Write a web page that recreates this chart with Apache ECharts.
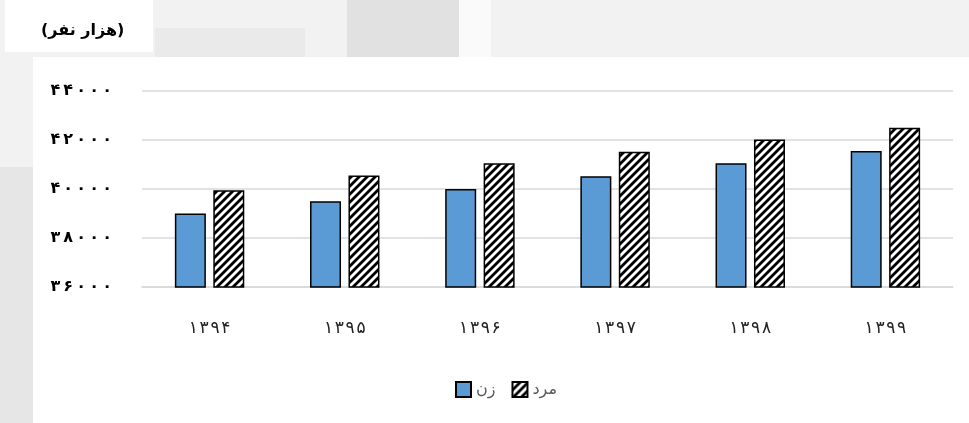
<!DOCTYPE html>
<html>
<head>
<meta charset="utf-8">
<script src="https://cdn.jsdelivr.net/npm/echarts@6/dist/echarts.min.js"></script>
<style>
  html, body { margin: 0; padding: 0; background: #fff; }
  #main { width: 969px; height: 423px; }
</style>
</head>
<body>
<div id="main"></div>
<script>
var years = ['۱۳۹۴', '۱۳۹۵', '۱۳۹۶', '۱۳۹۷', '۱۳۹۸', '۱۳۹۹'];
var women = [39000, 39500, 40000, 40520, 41050, 41550];
var men = [39950, 40550, 41050, 41520, 42020, 42500];
var yTicks = [36000, 38000, 40000, 42000, 44000];
var unitLabel = '(هزار نفر)';
var seriesNames = ['زن', 'مرد'];

var faDigits = '۰۱۲۳۴۵۶۷۸۹';
function toFa(n, sep) {
  return String(n).split('').map(function (d) { return faDigits[+d]; }).join(sep || '');
}

// hatch tile for the men bars
var tile = document.createElement('canvas');
tile.width = 8;
tile.height = 8;
var ctx = tile.getContext('2d');
ctx.fillStyle = '#fff';
ctx.fillRect(0, 0, 8, 8);
ctx.strokeStyle = '#000';
ctx.lineWidth = 2.8;
ctx.beginPath();
ctx.moveTo(-1, 9); ctx.lineTo(9, -1);
ctx.moveTo(-5, 5); ctx.lineTo(5, -5);
ctx.moveTo(3, 13); ctx.lineTo(13, 3);
ctx.stroke();

var chart = echarts.init(document.getElementById('main'));

var option = {
  backgroundColor: '#fff',
  animation: false,
  textStyle: { fontFamily: 'DejaVu Sans' },
  graphic: [
    // surrounding page bits (screenshot background)
    { type: 'rect', z: -10, shape: { x: 0, y: 0, width: 969, height: 57 }, style: { fill: '#f2f2f2' } },
    { type: 'rect', z: -10, shape: { x: 0, y: 57, width: 33, height: 110 }, style: { fill: '#f2f2f2' } },
    { type: 'rect', z: -10, shape: { x: 0, y: 167, width: 33, height: 256 }, style: { fill: '#e6e6e6' } },
    { type: 'rect', z: -9, shape: { x: 155, y: 28, width: 150, height: 29 }, style: { fill: '#eaeaea' } },
    { type: 'rect', z: -9, shape: { x: 347, y: 0, width: 112, height: 57 }, style: { fill: '#e1e1e1' } },
    { type: 'rect', z: -9, shape: { x: 459, y: 0, width: 32, height: 57 }, style: { fill: '#fafafa' } },
    { type: 'rect', z: -8, shape: { x: 5, y: 0, width: 148, height: 52 }, style: { fill: '#fff' } },
    {
      type: 'text', left: 41, top: 23,
      style: { text: unitLabel, font: 'bold 16px "DejaVu Sans"', fill: '#000' }
    }
  ],
  legend: {
    data: seriesNames,
    left: 455,
    top: 381,
    padding: 0,
    icon: 'rect',
    itemWidth: 15,
    itemHeight: 15,
    itemGap: 16,
    textStyle: { color: '#595959', fontSize: 16, fontFamily: 'DejaVu Sans' }
  },
  grid: { left: 142, right: 16, top: 91, bottom: 136 },
  xAxis: {
    type: 'category',
    data: years,
    axisTick: { show: false },
    axisLine: { lineStyle: { color: '#d9d9d9', width: 1.5 } },
    axisLabel: {
      color: '#222', fontSize: 17, margin: 33,
      formatter: function (v) { return v.split('').join('\u200A'); }
    }
  },
  yAxis: {
    type: 'value',
    min: yTicks[0],
    max: yTicks[yTicks.length - 1],
    interval: 2000,
    axisLine: { show: false },
    axisTick: { show: false },
    splitLine: { lineStyle: { color: '#d9d9d9', width: 1.5 } },
    axisLabel: {
      color: '#000', fontSize: 16, fontWeight: 'bold', margin: 30,
      formatter: function (v) { return toFa(v, '\u2009'); }
    }
  },
  series: [
    {
      name: seriesNames[0],
      type: 'bar',
      data: women,
      barWidth: 31,
      barGap: '24%',
      itemStyle: { color: '#5b9bd5', borderColor: '#000', borderWidth: 1.5 }
    },
    {
      name: seriesNames[1],
      type: 'bar',
      data: men,
      barWidth: 31,
      itemStyle: { color: { image: tile, repeat: 'repeat' }, borderColor: '#000', borderWidth: 1.5 }
    }
  ]
};

chart.setOption(option);
</script>
</body>
</html>
